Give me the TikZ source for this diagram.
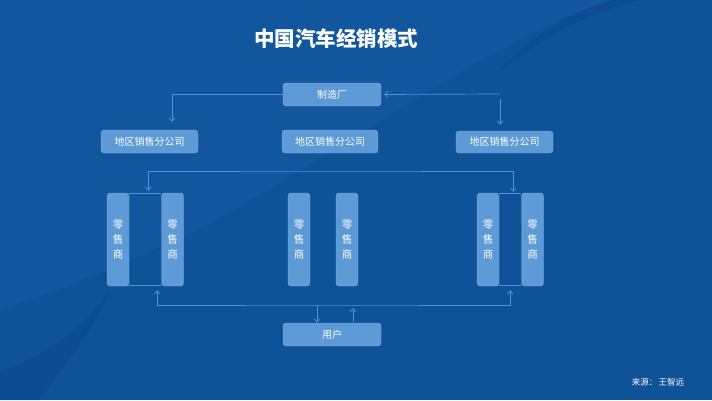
\documentclass[tikz,border=0pt]{standalone}
\usepackage{fontspec}
\setmainfont{Noto Sans CJK SC}
\usetikzlibrary{positioning,arrows.meta,calc}
\definecolor{bgblue}{HTML}{0E5297}
\definecolor{bgdark}{HTML}{0A4890}
\definecolor{bglight}{HTML}{1A5EA8}
\definecolor{boxblue}{HTML}{5E9BD6}
\definecolor{linkblue}{HTML}{5592D2}

\begin{document}
\begin{tikzpicture}[x=1pt,y=-1pt,font=\fontsize{10}{12}\selectfont,
  unit/.style={fill=boxblue,draw=boxblue!85!white,line width=0.4pt,rounded corners=3pt,
    text=white,minimum width=97pt,minimum height=23pt,inner sep=1pt},
  shop/.style={unit,minimum width=22pt,minimum height=93pt,align=center,
    font=\fontsize{10.5}{15}\selectfont},
  link/.style={draw=linkblue,line width=0.7pt},
  arr/.style={link,-{Straight Barb[length=3.5pt,width=6pt]}},
  >={Straight Barb[length=3.5pt,width=6pt]}]
% background
\fill[bgblue] (0,0) rectangle (712,400);
\fill[bglight,opacity=.4] (0,0) -- (612,0) .. controls (520,30) and (430,90) .. (300,170)
  .. controls (200,235) and (90,280) .. (0,310) -- cycle;
\fill[bgdark,opacity=.5] (612,0) .. controls (560,15) and (530,40) .. (498,72)
  .. controls (540,40) and (580,15) .. (640,0) -- cycle;
\fill[bgdark,opacity=.6] (0,372) .. controls (45,355) and (85,330) .. (110,290)
  .. controls (95,330) and (60,370) .. (40,400) -- (0,400) -- cycle;
\useasboundingbox (0,0) rectangle (712,400);

% title
\node[text=white,font=\fontsize{20.5}{24}\selectfont\bfseries] (title) at (336,39) {中国汽车经销模式};

% factory and branches
\node[unit,minimum width=98pt] (factory) at (332,94.5) {制造厂};
\node[unit] (subL) at (149.5,141.5) {地区销售分公司};
\node[unit,minimum width=96pt] (subM) at (330,141.5) {地区销售分公司};
\node[unit,minimum height=22pt] (subR) at (504.5,142) {地区销售分公司};

% retailers
\foreach \n/\x in {retL1/118,retL2/172.5,retM1/299,retM2/347,retR1/488,retR2/532.5}{
  \node[shop] (\n) at (\x,239.5) {零\\售\\商};}
\foreach \a/\b in {retL1/retL2,retR1/retR2}{
  \draw[link] ($(\a.north east)+(0,1)$) -- ($(\b.north west)+(0,1)$);
  \draw[link] ($(\a.south east)+(0,-1)$) -- ($(\b.south west)+(0,-1)$);}

% users
\node[unit,minimum width=98pt] (user) at (332,334.5) {用户};

% connectors
\coordinate (rturn) at (500,94);
\coordinate (busT) at (330,171);
\coordinate (busB) at (330,305);
\draw[arr] (factory.west) -| ($(subL.north)+(22.5,-8)$);
\draw[arr,shorten >=3pt] (rturn) -- (factory.east);
\draw[arr] ($(rturn)+(0,5)$) -- ($(subR.north -| rturn)+(0,-6)$);
\draw[link,<->] ($(retL1.north east)+(19,-2)$) |- (busT) -| ($(retR1.north east)+(14,-1)$);
\draw[link,<->] ($(retL1.south east)+(28,4)$) |- (busB) -| ($(retR1.south east)+(11,4)$);
\coordinate (uin) at ($(user.north)+(-15,0)$);
\coordinate (uout) at ($(user.north)+(21,-1)$);
\draw[arr] (uin |- busB) -- (uin);
\draw[arr] (uout) -- ($(uout |- busB)+(0,3)$);

% source
\node[text=white,font=\fontsize{8.5}{10}\selectfont] (src) at (658,382) {来源：\,王智远};
\end{tikzpicture}
\end{document}
